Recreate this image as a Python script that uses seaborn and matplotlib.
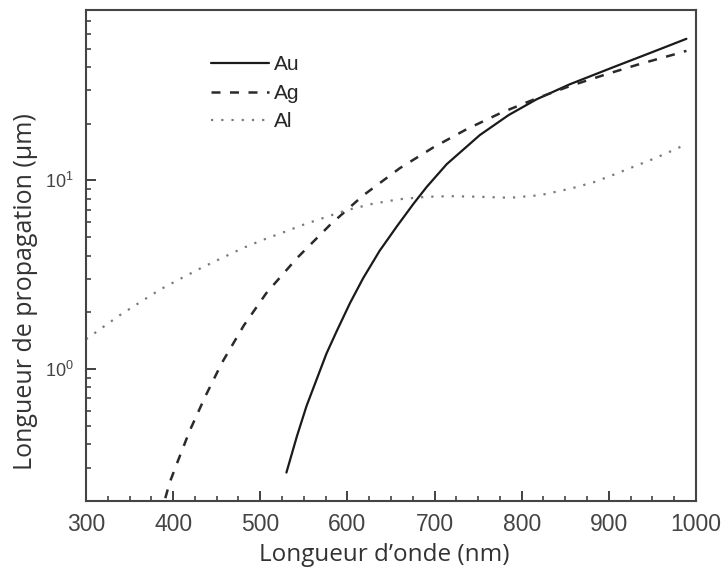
import pandas as pd
import numpy as np
import matplotlib.pyplot as plt
import seaborn as sns
from matplotlib.ticker import LogLocator, MultipleLocator, NullFormatter

# Propagation length of surface plasmons vs wavelength
au_wl = [530, 542, 553, 565, 576, 588, 603, 618, 637, 657, 676, 691, 714, 752, 785,
         817, 855, 905, 947, 989]
au_lp = [0.283, 0.440, 0.636, 0.890, 1.21, 1.60, 2.24, 3.03, 4.24, 5.73, 7.54, 9.24,
         12.2, 17.4, 22.2, 26.9, 32.3, 39.8, 47.3, 56.3]

ag_wl = [391, 396, 404, 419, 437, 456, 481, 507, 542, 580, 618, 660, 699, 737, 777,
         817, 855, 896, 934, 974, 989]
ag_lp = [0.207, 0.250, 0.313, 0.471, 0.718, 1.08, 1.70, 2.53, 3.87, 5.81, 8.32, 11.6,
         15.0, 18.7, 22.9, 27.2, 31.6, 36.4, 41.2, 46.4, 48.6]

al_wl = [300, 314, 338, 362, 385, 410, 433, 457, 481, 504, 528, 551, 576, 599, 630,
         660, 691, 718, 752, 787, 821, 836, 857, 882, 905, 928, 951, 970, 987]
al_lp = [1.44, 1.60, 1.92, 2.26, 2.64, 3.04, 3.45, 3.90, 4.40, 4.86, 5.34, 5.86, 6.41,
         6.95, 7.54, 7.95, 8.19, 8.25, 8.19, 8.09, 8.35, 8.64, 9.07, 9.76, 10.7, 11.8,
         13.0, 14.2, 15.4]

x_ticks = [300, 400, 500, 600, 700, 800, 900, 1000]


def plot_propagation():
    sns.set_style("ticks")
    plt.rcParams['font.family'] = ['Liberation Sans', 'DejaVu Sans']

    fig = plt.figure(figsize=(7.25, 5.73), dpi=100)
    ax = fig.add_axes([0.1186, 0.1257, 0.8414, 0.8568])

    curves = [
        ('Au', au_wl, au_lp, '#1a1a1a', '-', 1.6),
        ('Ag', ag_wl, ag_lp, '#2a2a2a', (0, (3.6, 3.8)), 1.8),
        ('Al', al_wl, al_lp, '#7a7a7a', (0, (1, 3.6)), 1.6),
    ]
    for name, wl, lp, color, ls, lw in curves:
        df = pd.DataFrame({'wl': wl, 'lp': lp})
        sns.lineplot(data=df, x='wl', y='lp', ax=ax, color=color,
                     linestyle=ls, linewidth=lw, label=name)

    ax.set_yscale('log')
    ax.set_xlim(300, 1000)
    ax.set_ylim(0.2, 80)

    ax.set_xticks(x_ticks)
    ax.xaxis.set_minor_locator(MultipleLocator(25))
    ax.yaxis.set_major_locator(LogLocator(base=10, numticks=10))
    ax.yaxis.set_minor_locator(LogLocator(base=10, subs=np.arange(2, 10), numticks=20))
    ax.yaxis.set_minor_formatter(NullFormatter())

    ax.tick_params(axis='both', which='both', direction='in', top=False, right=False,
                   colors='#333333', labelfontfamily='Liberation Sans')
    ax.tick_params(axis='x', which='major', length=7, width=1.3, labelsize=16.5, pad=9)
    ax.tick_params(axis='x', which='minor', length=3.5, width=1.1)
    ax.tick_params(axis='y', which='major', length=7, width=1.3, labelsize=13, pad=9)
    ax.tick_params(axis='y', which='minor', length=3.5, width=1.1)
    for lab in ax.get_xticklabels() + ax.get_yticklabels():
        lab.set_color('#444444')

    for side in ['top', 'right', 'bottom', 'left']:
        ax.spines[side].set_color('#444444')
        ax.spines[side].set_linewidth(1.5)

    label_font = ['Open Sans', 'DejaVu Sans']
    ax.set_xlabel('Longueur d\u2019onde (nm)', fontsize=17.5, family=label_font,
                  color='#333333')
    ax.set_ylabel('Longueur de propagation (\u00b5m)', fontsize=18, family=label_font,
                  color='#333333')
    ax.xaxis.set_label_coords(0.4885, -0.085)
    ax.yaxis.set_label_coords(-0.078, 0.426)

    ax.legend(loc='upper left', bbox_to_anchor=(0.175, 0.946), frameon=False,
              handlelength=2.75, handletextpad=0.25, labelspacing=0.46,
              prop={'family': 'Liberation Sans', 'size': 15})
    ax.grid(False)

    plt.savefig('out.png', dpi=100)


if __name__ == "__main__":
    plot_propagation()
